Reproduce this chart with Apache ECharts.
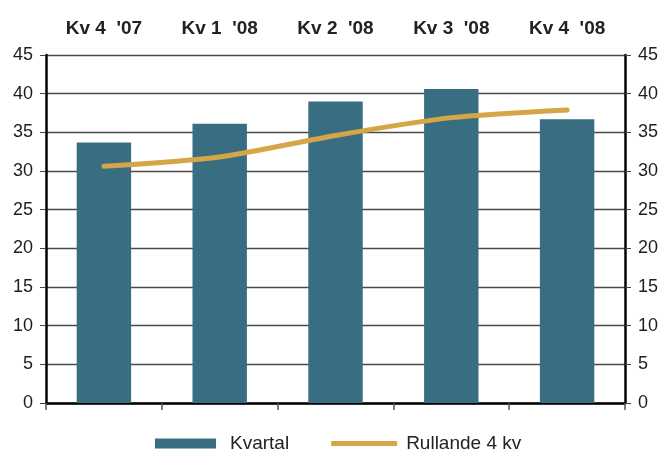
<!DOCTYPE html>
<html><head><meta charset="utf-8">
<script src="https://cdn.jsdelivr.net/npm/echarts@6/dist/echarts.min.js"></script>
<style>html,body{margin:0;padding:0;background:#fff}#c{width:662px;height:451px}</style>
</head><body><div id="c"></div>
<script>
const categories = ["Kv 4  '07", "Kv 1  '08", "Kv 2  '08", "Kv 3  '08", "Kv 4  '08"];
const kvartal = [33.7, 36.1, 39.0, 40.6, 36.7];
const rullande = [30.6, 31.8, 34.6, 36.9, 37.9];
const yTicks = [0, 5, 10, 15, 20, 25, 30, 35, 40, 45];

const font = 'Liberation Sans, Arial, Helvetica, sans-serif';
const chart = echarts.init(document.getElementById('c'));
const yAxisBase = {
  type: 'value', min: yTicks[0], max: yTicks[yTicks.length - 1], interval: yTicks[1] - yTicks[0],
  axisLine: {show: true, lineStyle: {color: '#000', width: 2.5}},
  axisTick: {show: true, length: 6, lineStyle: {color: '#444', width: 1}},
  axisLabel: {color: '#1e1e1e', fontSize: 18, fontFamily: font, margin: 13},
  splitLine: {show: false}
};
chart.setOption({
  animation: false,
  grid: {left: 46, right: 37, top: 55, bottom: 48, containLabel: false},
  legend: {
    top: 434, left: 155, itemGap: 42, padding: 0,
    textStyle: {fontSize: 19, fontFamily: font, color: '#222', padding: [0, 0, 0, 4]},
    data: [
      {name: 'Kvartal', icon: 'path://M0,0H61V10H0Z M66,0L66,0', itemStyle: {color: '#386d82'}},
      {name: 'Rullande 4 kv', icon: 'path://M0,0L0,0 M0,2.5H66V7.5H0Z M66,10L66,10', itemStyle: {color: '#d4a646'}}
    ],
    itemWidth: 66, itemHeight: 10
  },
  xAxis: [
    {
      type: 'category', data: categories, position: 'bottom',
      axisLine: {show: true, onZero: false, lineStyle: {color: '#000', width: 2.5}},
      axisTick: {show: true, length: 7, lineStyle: {color: '#555', width: 1.5}},
      axisLabel: {show: false}
    },
    {
      type: 'category', data: categories, position: 'top',
      axisLine: {show: false}, axisTick: {show: false},
      axisLabel: {show: true, color: '#222', fontSize: 19, fontWeight: 'bold', fontFamily: font, margin: 17}
    }
  ],
  yAxis: [
    Object.assign({}, yAxisBase, {position: 'left',
      splitLine: {show: true, lineStyle: {color: '#4a4a4a', width: 1.3}}}),
    Object.assign({}, yAxisBase, {position: 'right'})
  ],
  series: [
    {
      name: 'Kvartal', type: 'bar', data: kvartal, barWidth: '47%',
      itemStyle: {color: '#386d82'}, z: 2
    },
    {
      name: 'Rullande 4 kv', type: 'line', data: rullande, smooth: 0.25,
      symbol: 'none', lineStyle: {color: '#d4a646', width: 5, cap: 'round'},
      itemStyle: {color: '#d4a646'}, z: 3
    }
  ]
});
</script></body></html>
